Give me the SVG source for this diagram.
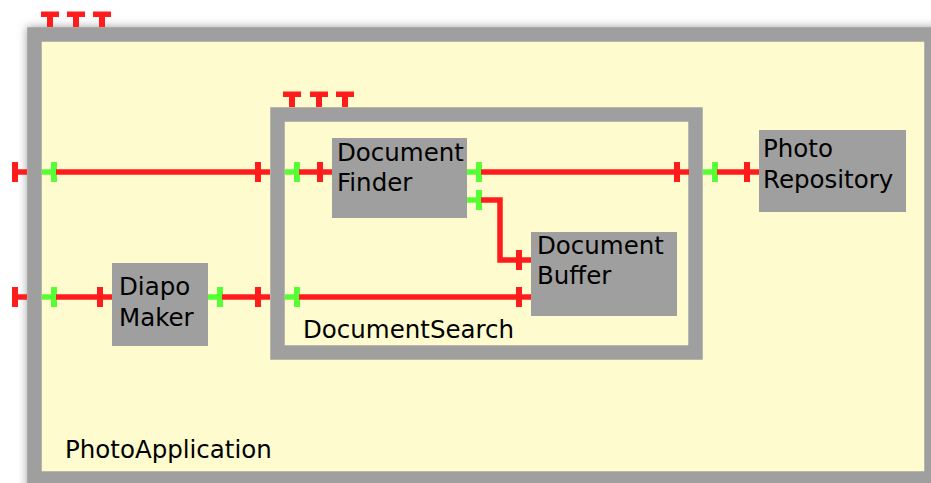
<svg xmlns="http://www.w3.org/2000/svg" width="931" height="483" viewBox="0 0 931 483">
<style>
.frame{fill:#fefccf;stroke:#9f9f9f;stroke-width:14.5}
.node{fill:#9f9f9f}
.lbl{font-family:"DejaVu Sans","Liberation Sans",sans-serif;font-size:24.5px;fill:#000}
.req{fill:#ff1c1c}
.prov{fill:#55ff33}
.wire{fill:none;stroke:#ff1c1c;stroke-width:5.5}
</style>
<defs>
<filter id="sh" x="-5%" y="-10%" width="110%" height="120%"><feGaussianBlur stdDeviation="5"/></filter>
<path id="ph" d="M0,-2.75H9V-10H15V10H9V2.75H0Z"/>
<path id="pv" d="M-3,0V-10H-9V-15.5H9V-10H3V0Z"/>
</defs>
<rect width="931" height="483" fill="#fff"/>
<g id="PhotoApplication">
<rect x="27" y="27" width="920" height="470" fill="#a0a0a0" filter="url(#sh)"/>
<rect class="frame" x="34.5" y="34.5" width="897" height="444"/>
<text class="lbl" x="65" y="458">PhotoApplication</text>
<use href="#pv" class="req" transform="translate(50,27)"/>
<use href="#pv" class="req" transform="translate(76,27)"/>
<use href="#pv" class="req" transform="translate(102,27)"/>
<use href="#ph" class="req" transform="translate(27,172) scale(-1,1)"/>
<use href="#ph" class="req" transform="translate(27,297) scale(-1,1)"/>
<use href="#ph" class="prov" transform="translate(42,172)"/>
<use href="#ph" class="prov" transform="translate(42,297)"/>
</g>
<g id="DocumentSearch">
<rect class="frame" x="277.5" y="114.5" width="418" height="238"/>
<text class="lbl" x="303" y="338">DocumentSearch</text>
<use href="#pv" class="req" transform="translate(292,107)"/>
<use href="#pv" class="req" transform="translate(319,107)"/>
<use href="#pv" class="req" transform="translate(345,107)"/>
<use href="#ph" class="req" transform="translate(270,172) scale(-1,1)"/>
<use href="#ph" class="req" transform="translate(270,297) scale(-1,1)"/>
<use href="#ph" class="prov" transform="translate(285,172)"/>
<use href="#ph" class="prov" transform="translate(285,297)"/>
<use href="#ph" class="req" transform="translate(689,172) scale(-1,1)"/>
<use href="#ph" class="prov" transform="translate(703,172)"/>
</g>
<g id="DocumentFinder">
<rect class="node" x="332" y="138" width="135" height="80"/>
<text class="lbl" x="337" y="161">Document</text>
<text class="lbl" x="337" y="191">Finder</text>
<use href="#ph" class="req" transform="translate(332,172) scale(-1,1)"/>
<use href="#ph" class="prov" transform="translate(467,172)"/>
<use href="#ph" class="prov" transform="translate(467,200)"/>
</g>
<g id="DocumentBuffer">
<rect class="node" x="531" y="232" width="146" height="84"/>
<text class="lbl" x="537" y="254">Document</text>
<text class="lbl" x="537" y="284">Buffer</text>
<use href="#ph" class="req" transform="translate(531,260) scale(-1,1)"/>
<use href="#ph" class="req" transform="translate(531,297) scale(-1,1)"/>
</g>
<g id="PhotoRepository">
<rect class="node" x="759" y="130" width="147" height="82"/>
<text class="lbl" x="763" y="157">Photo</text>
<text class="lbl" x="763" y="188">Repository</text>
<use href="#ph" class="req" transform="translate(759,172) scale(-1,1)"/>
</g>
<g id="DiapoMaker">
<rect class="node" x="112" y="263" width="96" height="83"/>
<text class="lbl" x="119" y="295">Diapo</text>
<text class="lbl" x="119" y="326">Maker</text>
<use href="#ph" class="req" transform="translate(112,297) scale(-1,1)"/>
<use href="#ph" class="prov" transform="translate(208,297)"/>
</g>
<g id="connectors">
<path class="wire" d="M56,172H256"/>
<path class="wire" d="M299,172H318"/>
<path class="wire" d="M481,172H675"/>
<path class="wire" d="M717,172H745"/>
<path class="wire" d="M481,200H500V260H517"/>
<path class="wire" d="M56,297H98"/>
<path class="wire" d="M222,297H256"/>
<path class="wire" d="M299,297H517"/>
</g>
</svg>
